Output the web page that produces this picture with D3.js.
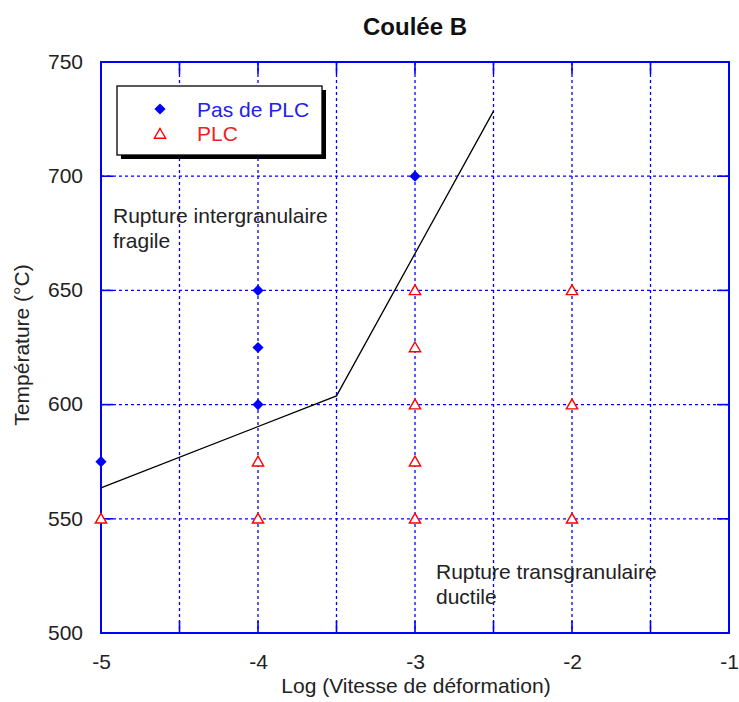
<!DOCTYPE html>
<html><head><meta charset="utf-8">
<script src="https://cdn.jsdelivr.net/npm/d3@7"></script>
<style>body{margin:0;background:#fff}</style>
</head><body>
<svg id="c" width="739" height="702"></svg>
<script>
const title = "Coulée B";
const xLabel = "Log (Vitesse de déformation)";
const yLabel = "Température (°C)";
const xTicks = [-5, -4, -3, -2, -1];
const yTicks = [500, 550, 600, 650, 700, 750];
const xGrid = [-4.5, -4, -3.5, -3, -2.5, -2, -1.5];
const yGrid = [550, 600, 650, 700];
const noPlcX = [-5, -4, -4, -4, -3];
const noPlcY = [575, 650, 625, 600, 700];
const plcX = [-5, -4, -4, -3, -3, -3, -3, -3, -2, -2, -2];
const plcY = [550, 575, 550, 650, 625, 600, 575, 550, 650, 600, 550];
const boundX = [-5, -3.5, -2.5];
const boundY = [563.5, 603.8, 728.5];
const legendLabels = ["Pas de PLC", "PLC"];

const svg = d3.select("#c");
const L = 101, R = 729, T = 62, B = 633;
const x = d3.scaleLinear().domain([-5, -1]).range([L, R]);
const y = d3.scaleLinear().domain([500, 750]).range([B, T]);
const blue = "#0000ff";
const font = "Arial, 'Liberation Sans', sans-serif";
const fs = 21;

// grid
svg.append("g").selectAll("line").data(xGrid).join("line")
  .attr("x1", d => x(d)).attr("x2", d => x(d)).attr("y1", T).attr("y2", B)
  .attr("stroke", blue).attr("stroke-width", 1.3).attr("stroke-dasharray", "3,3");
svg.append("g").selectAll("line").data(yGrid).join("line")
  .attr("y1", d => y(d)).attr("y2", d => y(d)).attr("x1", L).attr("x2", R)
  .attr("stroke", blue).attr("stroke-width", 1.3).attr("stroke-dasharray", "3,3");

// inner ticks
const tk = 12;
const gT = svg.append("g").attr("stroke", blue).attr("stroke-width", 1.6);
xGrid.forEach(d => {
  gT.append("line").attr("x1", x(d)).attr("x2", x(d)).attr("y1", B).attr("y2", B - tk);
  gT.append("line").attr("x1", x(d)).attr("x2", x(d)).attr("y1", T).attr("y2", T + tk);
});
yGrid.forEach(d => {
  gT.append("line").attr("y1", y(d)).attr("y2", y(d)).attr("x1", L).attr("x2", L + tk);
  gT.append("line").attr("y1", y(d)).attr("y2", y(d)).attr("x1", R).attr("x2", R - tk);
});

// frame
svg.append("rect").attr("x", L).attr("y", T).attr("width", R - L).attr("height", B - T)
  .attr("fill", "none").attr("stroke", blue).attr("stroke-width", 2);

// tick labels via d3 axes (no lines)
const xa = svg.append("g").attr("transform", `translate(0,${B})`)
  .call(d3.axisBottom(x).tickValues(xTicks).tickSize(0).tickPadding(0).tickFormat(d3.format("d")));
xa.select(".domain").remove();
xa.selectAll("text").attr("font-family", font).attr("font-size", fs).attr("fill", "#222")
  .attr("dy", null).attr("y", 36).text(d => String(d));
const ya = svg.append("g").attr("transform", `translate(${L},0)`)
  .call(d3.axisLeft(y).tickValues(yTicks).tickSize(0).tickPadding(18).tickFormat(d3.format("d")));
ya.select(".domain").remove();
ya.selectAll("text").attr("font-family", font).attr("font-size", fs).attr("fill", "#222")
  .attr("dy", "0.3em");

// boundary line
svg.append("path").datum(boundX.map((d, i) => [d, boundY[i]]))
  .attr("d", d3.line().x(d => x(d[0])).y(d => y(d[1])))
  .attr("fill", "none").attr("stroke", "#000").attr("stroke-width", 1.3);

// markers
const diamond = d3.symbol().type(d3.symbolDiamond2).size(80);
const tri = d3.symbol().type(d3.symbolTriangle).size(55);
svg.append("g").selectAll("path").data(noPlcX.map((d, i) => [d, noPlcY[i]])).join("path")
  .attr("d", diamond).attr("transform", d => `translate(${x(d[0])},${y(d[1])})`)
  .attr("fill", blue);
svg.append("g").selectAll("path").data(plcX.map((d, i) => [d, plcY[i]])).join("path")
  .attr("d", tri).attr("transform", d => `translate(${x(d[0])},${y(d[1]) + 1})`)
  .attr("fill", "#fff").attr("stroke", "#ff0000").attr("stroke-width", 1.4);

// annotations
const ann = (tx, ty, lines) => {
  lines.forEach((t, i) => svg.append("text").attr("x", tx).attr("y", ty + i * 25)
    .attr("font-family", font).attr("font-size", fs).attr("fill", "#222").text(t));
};
ann(113, 223, ["Rupture intergranulaire", "fragile"]);
ann(436, 579, ["Rupture transgranulaire", "ductile"]);

// legend
const lg = svg.append("g");
lg.append("rect").attr("x", 121).attr("y", 90).attr("width", 205).attr("height", 69).attr("fill", "#000");
lg.append("rect").attr("x", 117).attr("y", 86).attr("width", 205).attr("height", 69)
  .attr("fill", "#fff").attr("stroke", "#000").attr("stroke-width", 1.3);
lg.append("path").attr("d", diamond).attr("transform", "translate(160,109)").attr("fill", blue);
lg.append("path").attr("d", tri).attr("transform", "translate(160,135)")
  .attr("fill", "#fff").attr("stroke", "#ff0000").attr("stroke-width", 1.4);
lg.append("text").attr("x", 197).attr("y", 117).attr("font-family", font).attr("font-size", fs)
  .attr("fill", "#2222ee").text(legendLabels[0]);
lg.append("text").attr("x", 197).attr("y", 141).attr("font-family", font).attr("font-size", fs)
  .attr("fill", "#ee2222").text(legendLabels[1]);

// titles
svg.append("text").attr("x", 415).attr("y", 35).attr("text-anchor", "middle")
  .attr("font-family", font).attr("font-size", 24).attr("font-weight", "bold").attr("fill", "#111").text(title);
svg.append("text").attr("x", 416).attr("y", 693).attr("text-anchor", "middle")
  .attr("font-family", font).attr("font-size", fs).attr("fill", "#222").text(xLabel);
svg.append("text").attr("transform", "translate(29,345) rotate(-90)").attr("text-anchor", "middle")
  .attr("font-family", font).attr("font-size", fs).attr("fill", "#222").text(yLabel);
</script>
</body></html>
